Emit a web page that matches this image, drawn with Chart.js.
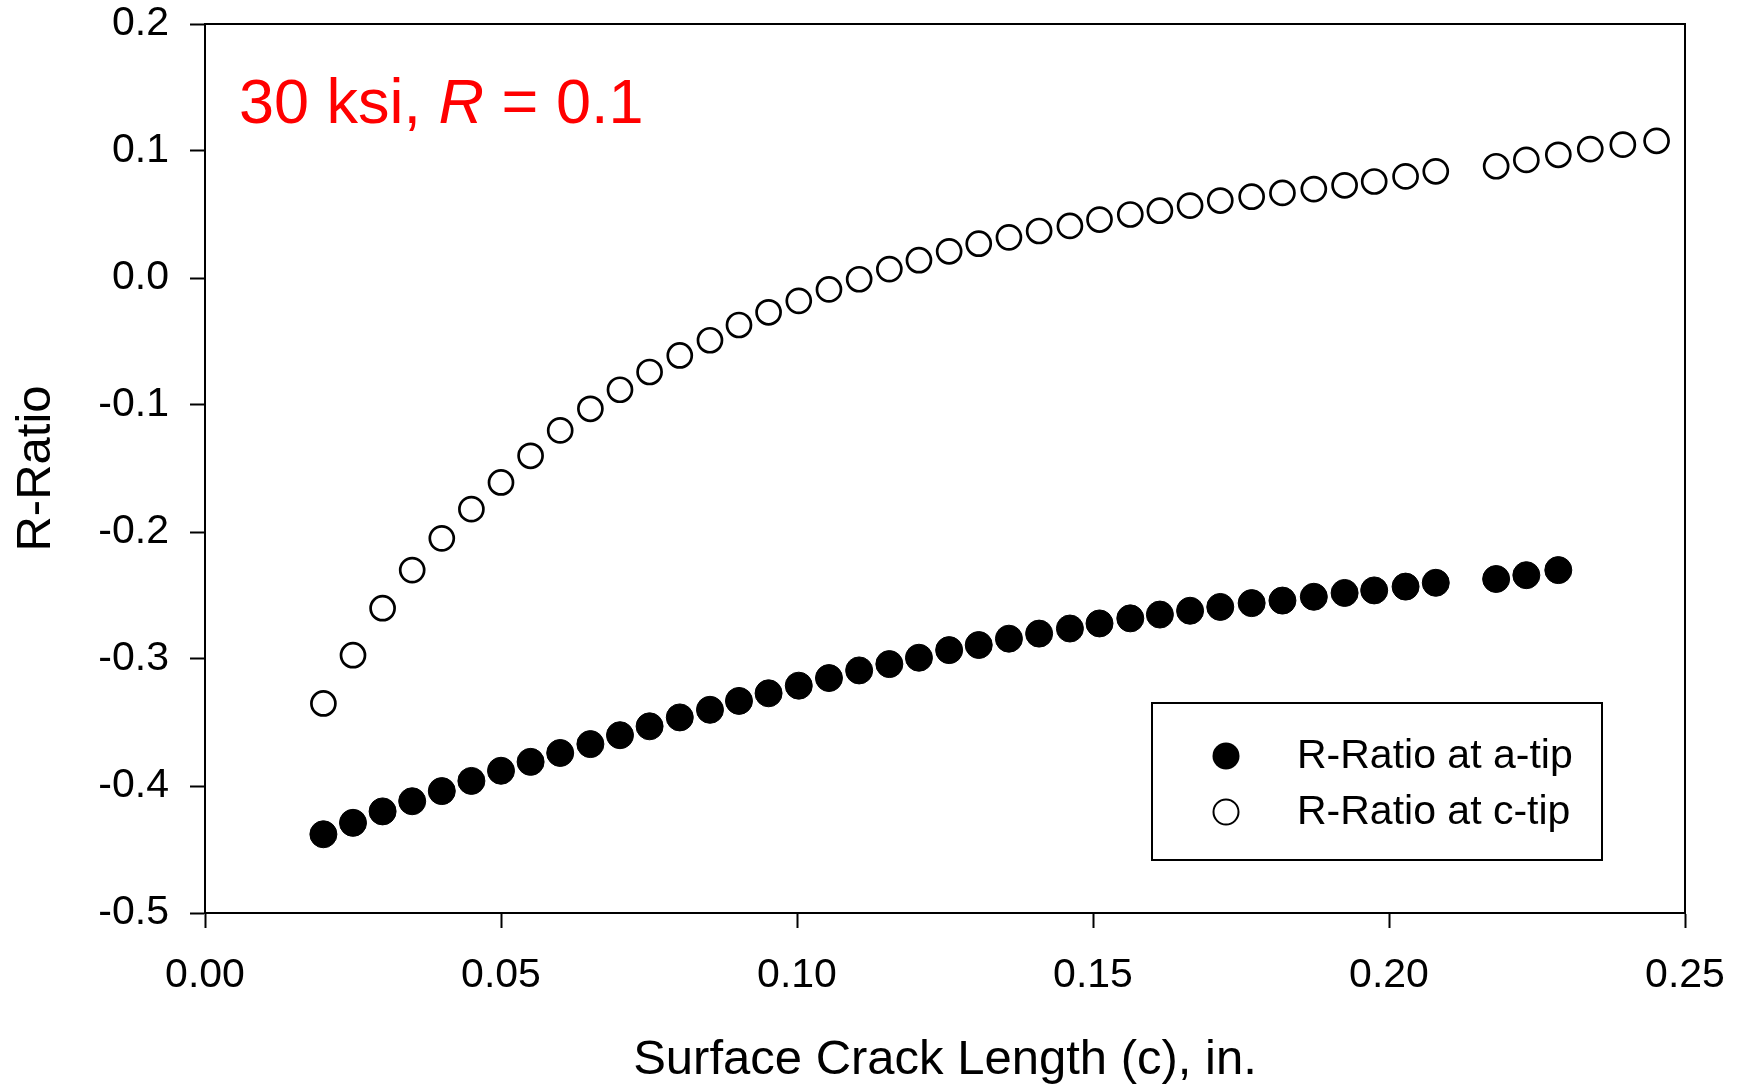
<!DOCTYPE html>
<html>
<head>
<meta charset="utf-8">
<script src="https://cdn.jsdelivr.net/npm/chart.js@4.4.1/dist/chart.umd.min.js"></script>
<style>
  html, body { margin: 0; padding: 0; background: #fff; }
  canvas { display: block; }
</style>
</head>
<body>
<canvas id="chart" width="1737" height="1085"></canvas>
<script>
// Surface crack length c (in.) at each computed step
const crackLength = [
  0.020, 0.025, 0.030, 0.035, 0.040, 0.045, 0.050, 0.055, 0.060, 0.0651,
  0.0701, 0.0751, 0.0802, 0.0853, 0.0902, 0.0952, 0.1003, 0.1054, 0.1105, 0.1156,
  0.1206, 0.1257, 0.1307, 0.1358, 0.1409, 0.1461, 0.1511, 0.1563, 0.1613, 0.1664,
  0.1715, 0.1768, 0.1820, 0.1873, 0.1925, 0.1975, 0.2028, 0.2079, 0.2181, 0.2232,
  0.2286, 0.2340, 0.2395, 0.2452
];

// Effective R-ratio at the deepest point (a-tip)
const rRatioATip = [
  -0.438, -0.429, -0.420, -0.412, -0.404, -0.396, -0.388, -0.381, -0.374, -0.367,
  -0.360, -0.353, -0.346, -0.340, -0.333, -0.327, -0.321, -0.315, -0.309, -0.304,
  -0.299, -0.293, -0.289, -0.284, -0.280, -0.276, -0.272, -0.268, -0.265, -0.262,
  -0.259, -0.256, -0.254, -0.251, -0.248, -0.246, -0.243, -0.240, -0.237, -0.234,
  -0.230
];

// Effective R-ratio at the surface point (c-tip)
const rRatioCTip = [
  -0.335, -0.297, -0.260, -0.230, -0.205, -0.182, -0.161, -0.140, -0.120, -0.103,
  -0.088, -0.074, -0.061, -0.049, -0.037, -0.027, -0.018, -0.009, -0.001, 0.007,
  0.014, 0.021, 0.027, 0.032, 0.037, 0.041, 0.046, 0.050, 0.053, 0.057,
  0.061, 0.064, 0.067, 0.070, 0.073, 0.076, 0.080, 0.084, 0.088, 0.093,
  0.097, 0.1015, 0.105, 0.108
];

const seriesLabels = ['R-Ratio at a-tip', 'R-Ratio at c-tip'];
const xTickValues = [0.00, 0.05, 0.10, 0.15, 0.20, 0.25];
const yTickValues = [-0.5, -0.4, -0.3, -0.2, -0.1, 0.0, 0.1, 0.2];
const xTitle = 'Surface Crack Length (c), in.';
const yTitle = 'R-Ratio';
const noteText = ['30 ksi, ', 'R', ' = 0.1'];   // middle piece is set in italics

const FONT = '"Liberation Sans", Arial, Helvetica, sans-serif';

const toPoints = (ys) => ys.map((y, i) => ({ x: crackLength[i], y }));

// fixed axis band size; label overflow is absorbed by the layout padding
const fixAxis = (prop, size) => (s) => {
  s[prop] = size;
  s.paddingLeft = s.paddingRight = s.paddingTop = s.paddingBottom = 0;
};

// Plot frame, load-case note and boxed legend
const decorations = {
  id: 'decorations',
  afterDraw(chart) {
    const { ctx, chartArea: a } = chart;
    ctx.save();

    // closed frame around the plotting area
    ctx.strokeStyle = '#000';
    ctx.lineWidth = 2;
    ctx.strokeRect(a.left, a.top, a.right - a.left, a.bottom - a.top);

    // load case note
    ctx.fillStyle = '#ff0000';
    ctx.textBaseline = 'alphabetic';
    ctx.textAlign = 'left';
    let x = a.left + 34;
    const baseY = a.top + 99;
    noteText.forEach((part, i) => {
      ctx.font = (i === 1 ? 'italic ' : '') + '63px ' + FONT;
      ctx.fillText(part, x, baseY);
      x += ctx.measureText(part).width;
    });

    // legend box
    const box = { left: 1152, top: 703, right: 1602, bottom: 860 };
    ctx.strokeStyle = '#000';
    ctx.lineWidth = 2;
    ctx.strokeRect(box.left, box.top, box.right - box.left, box.bottom - box.top);

    const rows = [756, 812];
    const markerX = 1226;
    ctx.font = '41px ' + FONT;
    ctx.textBaseline = 'middle';
    chart.data.datasets.forEach((ds, i) => {
      const y = rows[i];
      ctx.beginPath();
      if (i === 0) {
        ctx.arc(markerX, y, 13.5, 0, Math.PI * 2);
        ctx.fillStyle = '#000';
        ctx.fill();
      } else {
        ctx.arc(markerX, y, 12.5, 0, Math.PI * 2);
        ctx.fillStyle = '#fff';
        ctx.fill();
        ctx.lineWidth = 2;
        ctx.strokeStyle = '#000';
        ctx.stroke();
      }
      ctx.fillStyle = '#000';
      ctx.fillText(ds.label, 1297, y + 1);
    });

    ctx.restore();
  }
};

new Chart(document.getElementById('chart'), {
  type: 'scatter',
  data: {
    datasets: [
      {
        label: seriesLabels[0],
        data: toPoints(rRatioATip),
        pointRadius: 13.5,
        pointHoverRadius: 13.5,
        backgroundColor: '#000',
        borderColor: '#000',
        borderWidth: 1,
        showLine: false
      },
      {
        label: seriesLabels[1],
        data: toPoints(rRatioCTip),
        pointRadius: 12,
        pointHoverRadius: 12,
        backgroundColor: '#fff',
        borderColor: '#000',
        borderWidth: 2.7,
        showLine: false
      }
    ]
  },
  options: {
    responsive: false,
    devicePixelRatio: 1,
    animation: false,
    events: [],
    layout: { padding: { top: 24, right: 52, left: 0, bottom: 0 } },
    plugins: {
      legend: { display: false },
      tooltip: { enabled: false }
    },
    scales: {
      x: {
        type: 'linear',
        min: 0,
        max: 0.25,
        afterFit: fixAxis('height', 172),
        afterBuildTicks: (s) => { s.ticks = xTickValues.map(v => ({ value: v })); },
        grid: {
          drawOnChartArea: false,
          drawTicks: true,
          tickLength: 15,
          tickWidth: 2,
          tickColor: '#000'
        },
        border: { display: true, color: '#000', width: 2 },
        ticks: {
          padding: 23,
          color: '#000',
          font: { family: FONT, size: 41 },
          maxRotation: 0,
          autoSkip: false,
          callback: (v) => Number(v).toFixed(2)
        },
        title: {
          display: true,
          text: xTitle,
          color: '#000',
          font: { family: FONT, size: 49, lineHeight: 1 },
          padding: { top: 0, bottom: 0 }
        }
      },
      y: {
        type: 'linear',
        min: -0.5,
        max: 0.2,
        afterFit: fixAxis('width', 205),
        afterBuildTicks: (s) => { s.ticks = yTickValues.map(v => ({ value: v })); },
        grid: {
          drawOnChartArea: false,
          drawTicks: true,
          tickLength: 15,
          tickWidth: 2,
          tickColor: '#000'
        },
        border: { display: true, color: '#000', width: 2 },
        ticks: {
          padding: 21,
          color: '#000',
          font: { family: FONT, size: 41 },
          autoSkip: false,
          callback: (v) => Number(v).toFixed(1)
        },
        title: {
          display: true,
          text: yTitle,
          color: '#000',
          font: { family: FONT, size: 49, lineHeight: 1 },
          padding: { top: 11.5, bottom: 0 }
        }
      }
    }
  },
  plugins: [decorations]
});
</script>
</body>
</html>
